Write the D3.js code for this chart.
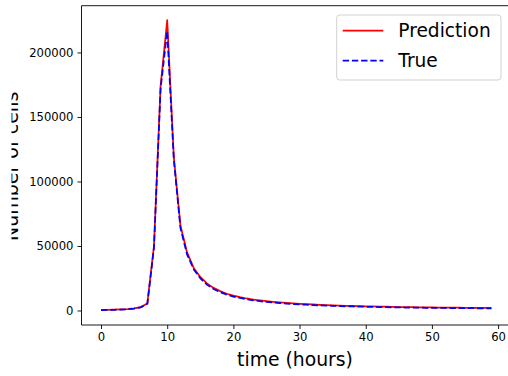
<!DOCTYPE html>
<html>
<head>
<meta charset="utf-8">
<script src="https://cdn.jsdelivr.net/npm/d3@7"></script>
<style>
  html, body { margin: 0; padding: 0; background: #fff; overflow: hidden; }
  svg { display: block; }
  text { font-family: "DejaVu Sans", sans-serif; fill: #000; }
</style>
</head>
<body>
<svg id="chart" width="508" height="376"></svg>
<script>
const hours = d3.range(0, 60);
const prediction = [
  300, 400, 600, 800, 1100, 1600, 2600, 5500, 50000, 174000,
  225000, 119000, 66000, 45000, 33000, 26000, 21000, 17500, 15000, 13000,
  11500, 10300, 9300, 8500, 7800, 7200, 6700, 6250, 5850, 5500,
  5200, 4900, 4650, 4400, 4200, 4000, 3800, 3650, 3500, 3350,
  3200, 3100, 3000, 2900, 2800, 2700, 2620, 2550, 2480, 2410,
  2350, 2290, 2240, 2190, 2140, 2100, 2060, 2020, 1980, 1950
];
const trueVals = [
  300, 400, 550, 750, 1000, 1500, 2400, 5200, 48500, 172000,
  216500, 117000, 64000, 43500, 32000, 25000, 20000, 16700, 14200, 12300,
  10800, 9700, 8700, 7900, 7200, 6650, 6150, 5700, 5350, 5000,
  4700, 4450, 4200, 4000, 3800, 3600, 3420, 3270, 3120, 2990,
  2870, 2760, 2660, 2560, 2470, 2390, 2310, 2240, 2170, 2110,
  2050, 1990, 1940, 1890, 1840, 1800, 1760, 1720, 1680, 1640
];
const xTicks = [0, 10, 20, 30, 40, 50, 60];
const yTicks = [0, 50000, 100000, 150000, 200000];
const seriesNames = ["Prediction", "True"];

const svg = d3.select("#chart");
const plot = { left: 81.5, right: 511, top: 5.7, bottom: 325 };

const xMin = d3.min(hours), xMax = d3.max(hours);
const xPad = 0.05 * (xMax - xMin);
const x = d3.scaleLinear().domain([xMin - xPad, xMax + xPad]).range([plot.left, plot.right]);

const allY = prediction.concat(trueVals);
const yMin = Math.min(0, d3.min(allY)), yMax = d3.max(allY);
const yPad = 0.05 * (yMax - yMin);
const y = d3.scaleLinear().domain([yMin - yPad, yMax + yPad]).range([plot.bottom, plot.top]);

// lines
const line = d3.line().x((d, i) => x(hours[i])).y(d => y(d));
svg.append("path").datum(prediction)
  .attr("d", line).attr("fill", "none").attr("stroke", "#ff0000")
  .attr("stroke-width", 1.75).attr("stroke-linejoin", "round");
svg.append("path").datum(trueVals)
  .attr("d", line).attr("fill", "none").attr("stroke", "#0000ff")
  .attr("stroke-width", 1.75).attr("stroke-dasharray", "6.4,2.8");

// axes
const xAxis = d3.axisBottom(x).tickValues(xTicks).tickSize(4).tickPadding(4).tickFormat(d3.format("d"));
const gx = svg.append("g").attr("transform", `translate(0,${plot.bottom})`).call(xAxis);
const yAxis = d3.axisLeft(y).tickValues(yTicks).tickSize(4).tickPadding(4).tickFormat(d3.format("d"));
const gy = svg.append("g").attr("transform", `translate(${plot.left},0)`).call(yAxis);
[gx, gy].forEach(g => {
  g.select(".domain").remove();
  g.selectAll(".tick line").attr("stroke", "#000").attr("stroke-width", 0.9);
  g.selectAll(".tick text").attr("font-size", "11.6px").attr("fill", "#262626")
    .attr("font-family", "DejaVu Sans, sans-serif");
});

// spines (left, bottom, top; the right spine lies outside the picture)
const spines = svg.append("g").attr("stroke", "#000").attr("stroke-width", 0.9);
spines.append("line").attr("x1", plot.left).attr("x2", plot.left).attr("y1", plot.top).attr("y2", plot.bottom);
spines.append("line").attr("x1", plot.left).attr("x2", 520).attr("y1", plot.bottom).attr("y2", plot.bottom);
spines.append("line").attr("x1", plot.left).attr("x2", 520).attr("y1", plot.top).attr("y2", plot.top);

// axis labels
svg.append("text").attr("x", 295).attr("y", 366)
  .attr("text-anchor", "middle").attr("font-size", "18.8px")
  .text("time (hours)");
svg.append("text")
  .attr("transform", `translate(17.5,${(plot.top + plot.bottom) / 2 + 1}) rotate(-90)`)
  .attr("text-anchor", "middle").attr("font-size", "19px")
  .text("Number of cells");
// the reference cuts off the left part of the y label
svg.append("rect").attr("x", 0).attr("y", 0).attr("width", 11.5).attr("height", 376).attr("fill", "#fff");

// legend
const lg = svg.append("g");
lg.append("rect").attr("x", 336.7).attr("y", 15).attr("width", 164.3).attr("height", 65)
  .attr("rx", 3).attr("fill", "#fff").attr("fill-opacity", 0.8)
  .attr("stroke", "#cccccc").attr("stroke-width", 0.9);
const legendItems = [
  { name: seriesNames[0], color: "#ff0000", dash: null, cy: 30.7 },
  { name: seriesNames[1], color: "#0000ff", dash: "6.4,2.8", cy: 60.7 }
];
legendItems.forEach(it => {
  lg.append("line").attr("x1", 342.7).attr("x2", 383.3).attr("y1", it.cy).attr("y2", it.cy)
    .attr("stroke", it.color).attr("stroke-width", 1.75)
    .attr("stroke-dasharray", it.dash);
  lg.append("text").attr("x", 398.3).attr("y", it.cy).attr("dy", "0.35em")
    .attr("font-size", "18.6px").text(it.name);
});
</script>
</body>
</html>
